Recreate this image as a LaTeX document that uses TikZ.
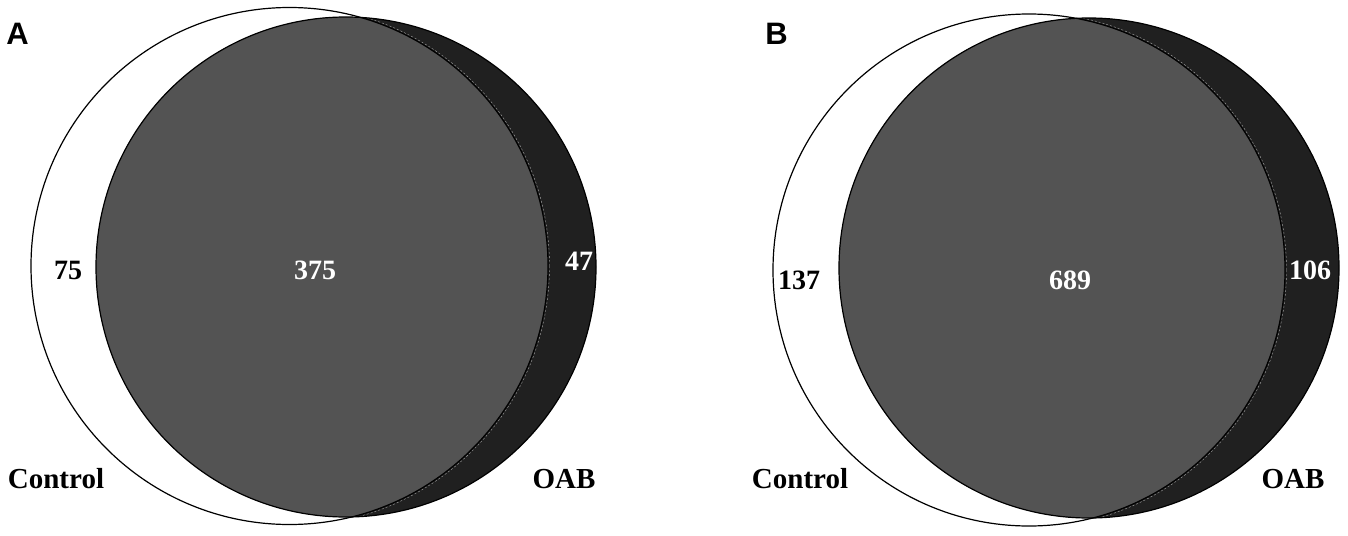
\documentclass[tikz,border=0pt]{standalone}
\usepackage{fontspec}
\setmainfont{Liberation Serif}
\newfontfamily\panelfont{Liberation Sans}
\definecolor{interg}{RGB}{83,83,83}
\definecolor{oabdark}{RGB}{32,32,32}
\begin{document}
\begin{tikzpicture}[x=1pt,y=-1pt,
  outline/.style={draw=black,line width=1.2pt},
  seam/.style={draw=gray!70,line width=0.4pt,dash pattern=on 2pt off 2pt},
  numlbl/.style={font=\bfseries\fontsize{28}{28}\selectfont,inner sep=0pt},
  setlbl/.style={font=\bfseries\fontsize{29}{29}\selectfont,inner sep=0pt},
  panel/.style={font=\panelfont\bfseries\fontsize{31}{31}\selectfont,inner sep=0pt}]
\useasboundingbox (0,0) rectangle (1348,535);
\fill[white] (0,0) rectangle (1348,535);
% ---------- Panel A ----------
\def\cAx{289.5}\def\cAy{266}\def\cAr{258.5}
\def\oAx{346}\def\oAy{267}\def\oAr{250}
\fill[white] (\cAx,\cAy) circle (\cAr);
\fill[oabdark] (\oAx,\oAy) circle (\oAr);
\begin{scope}
  \clip (\cAx,\cAy) circle (\cAr);
  \fill[interg] (\oAx,\oAy) circle (\oAr);
\end{scope}
\begin{scope}
  \clip (\oAx,\oAy) circle (\oAr);
  \draw[seam] (\cAx,\cAy) circle (\cAr+1.5);
\end{scope}
\draw[outline] (\cAx,\cAy) circle (\cAr);
\draw[outline] (\oAx,\oAy) circle (\oAr);
\node[panel] (labA) at (17.5,33.5) {A};
\node[numlbl] (onlyCA) at (68,270) {75};
\node[numlbl,text=white] (bothA) at (315,270) {375};
\node[numlbl,text=white] (onlyOA) at (579,261) {47};
\node[setlbl] (ctrlA) at (56,479) {Control};
\node[setlbl] (oabA) at (564,479) {OAB};
% ---------- Panel B ----------
\def\cBx{1029}\def\cBy{270}\def\cBr{256}
\def\oBx{1089}\def\oBy{268}\def\oBr{250}
\fill[white] (\cBx,\cBy) circle (\cBr);
\fill[oabdark] (\oBx,\oBy) circle (\oBr);
\begin{scope}
  \clip (\cBx,\cBy) circle (\cBr);
  \fill[interg] (\oBx,\oBy) circle (\oBr);
\end{scope}
\begin{scope}
  \clip (\oBx,\oBy) circle (\oBr);
  \draw[seam] (\cBx,\cBy) circle (\cBr+1.5);
\end{scope}
\draw[outline] (\cBx,\cBy) circle (\cBr);
\draw[outline] (\oBx,\oBy) circle (\oBr);
\node[panel] (labB) at (776.5,33.5) {B};
\node[numlbl] (onlyCB) at (799,280) {137};
\node[numlbl,text=white] (bothB) at (1070,280) {689};
\node[numlbl,text=white] (onlyOB) at (1310,270) {106};
\node[setlbl] (ctrlB) at (800,479) {Control};
\node[setlbl] (oabB) at (1293,479) {OAB};
\end{tikzpicture}
\end{document}
